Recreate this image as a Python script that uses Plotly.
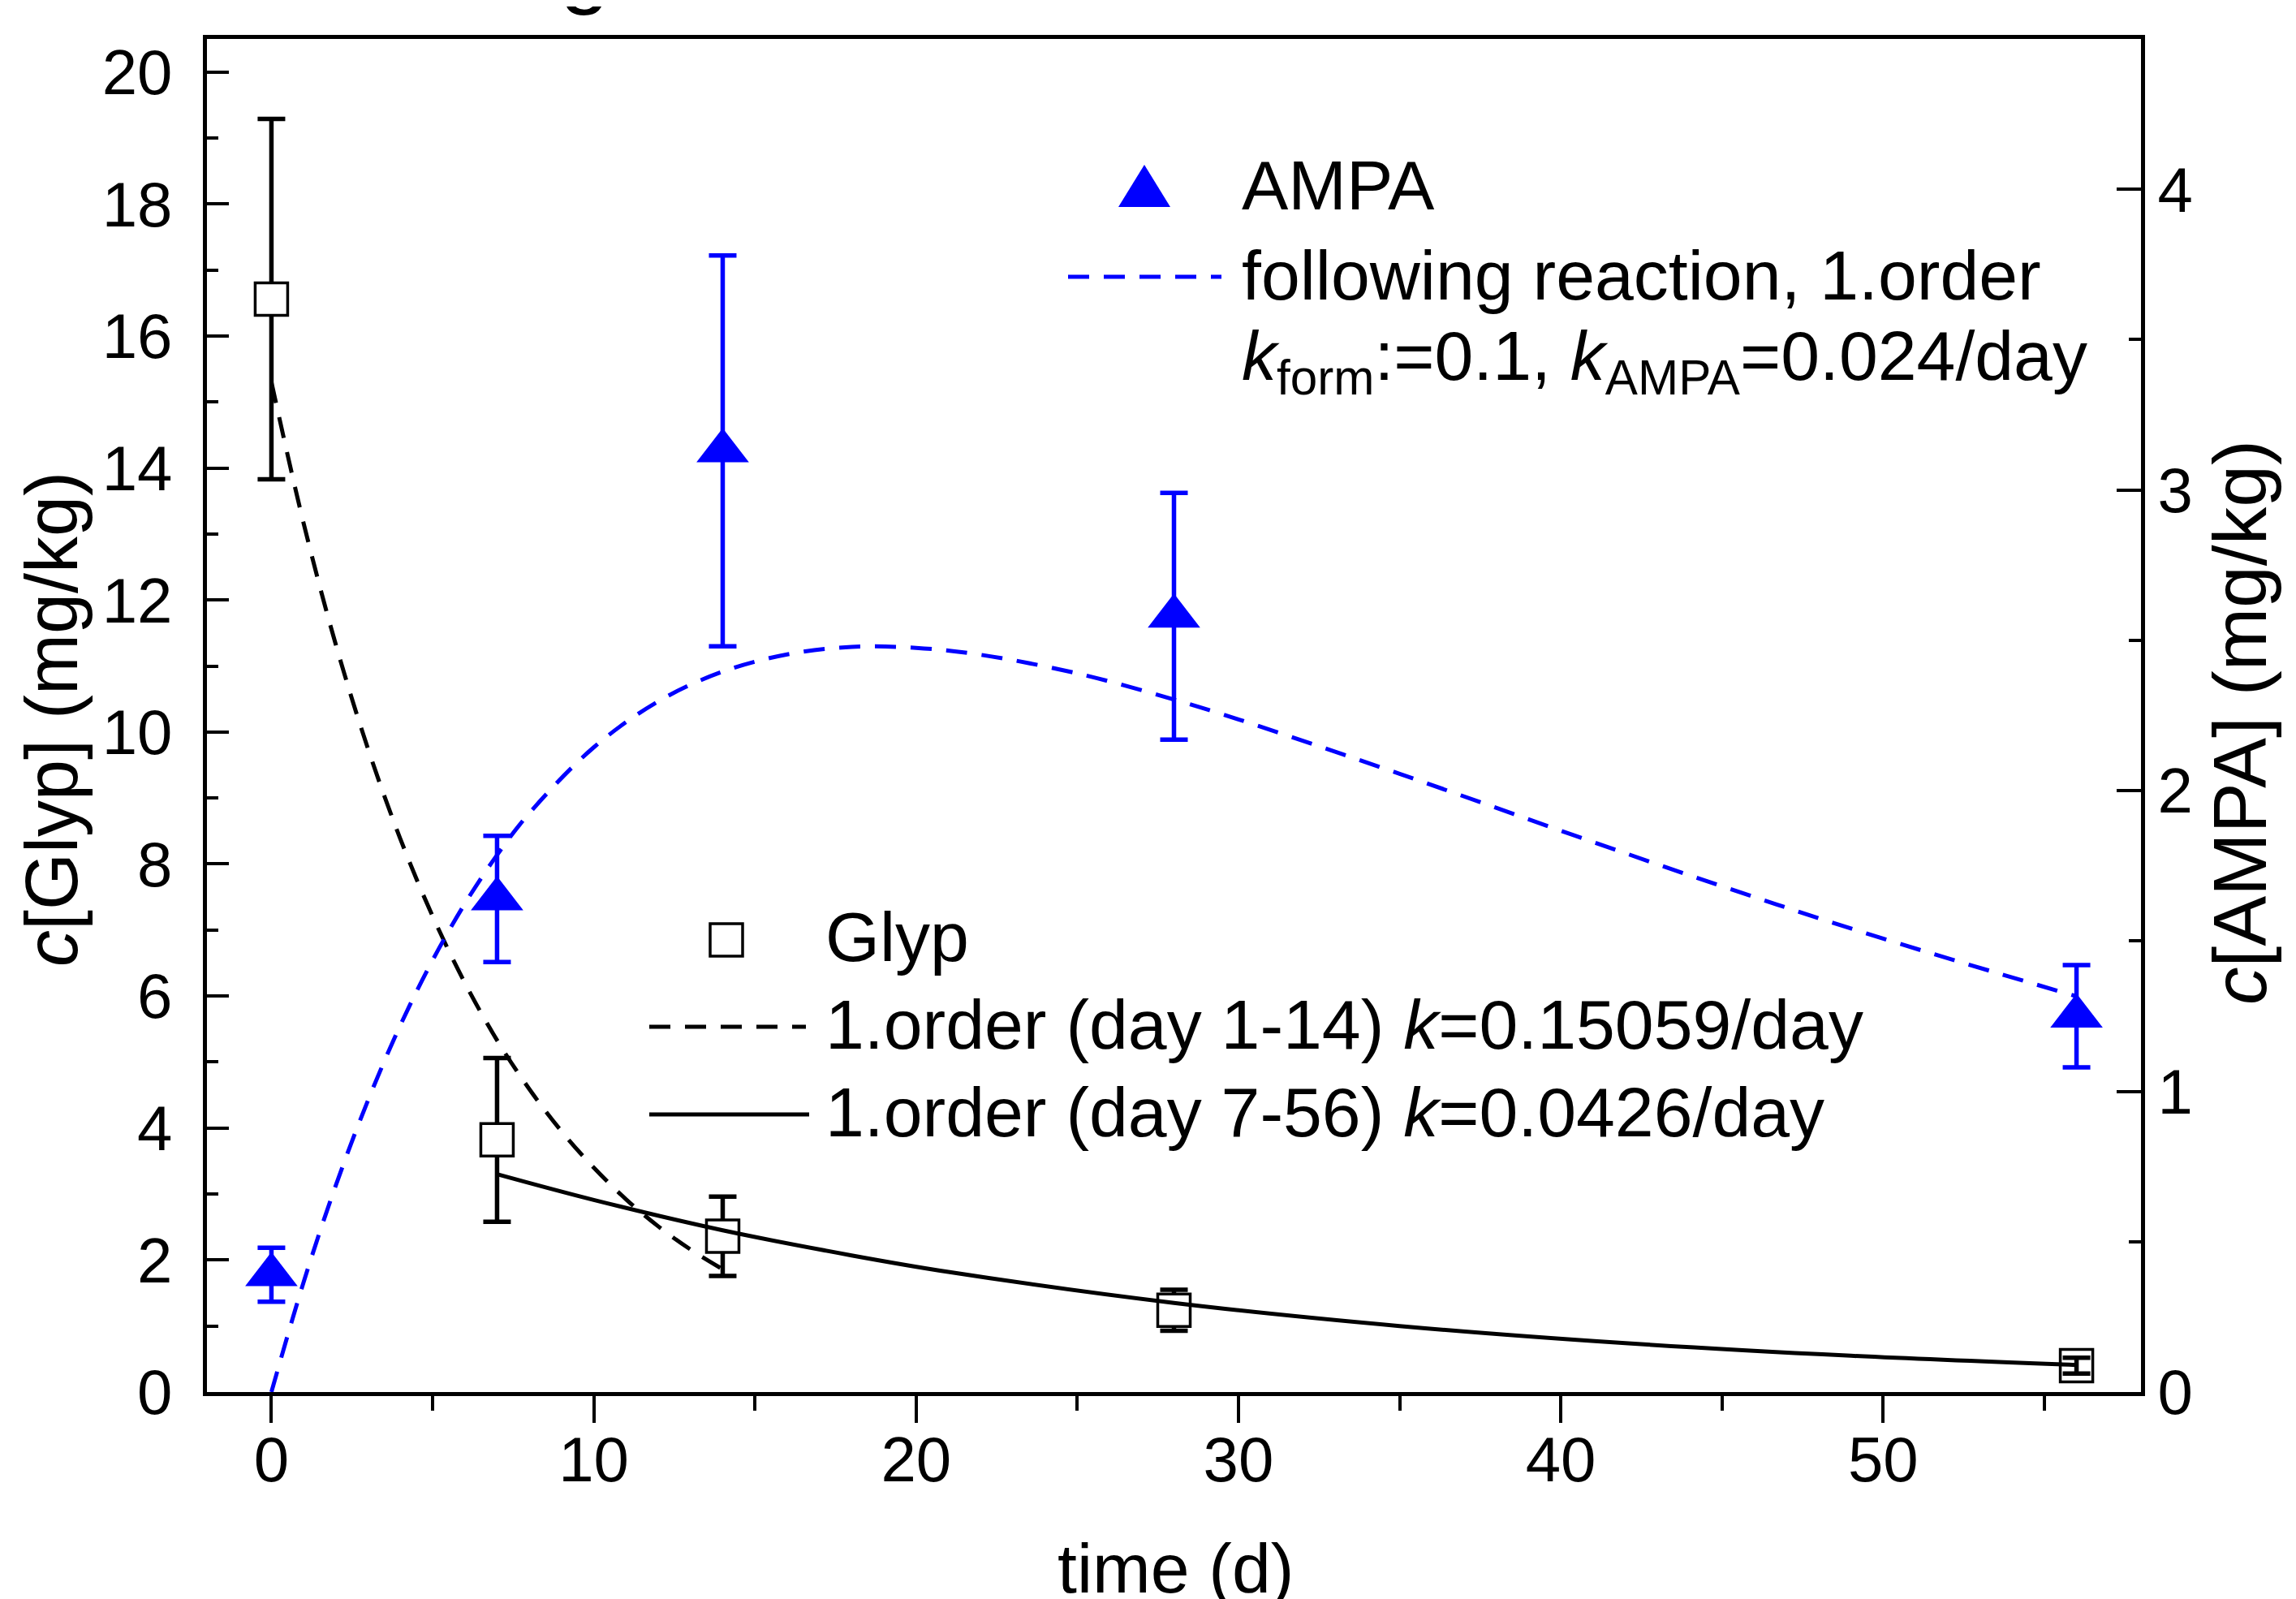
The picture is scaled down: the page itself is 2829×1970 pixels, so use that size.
import plotly.graph_objects as go

# ---------------- data ----------------
time_days = [0, 7, 14, 28, 56]
glyp = [16.56, 3.82, 2.36, 1.24, 0.40]
glyp_err = [2.73, 1.24, 0.60, 0.31, 0.12]
ampa = [0.39, 1.64, 3.13, 2.58, 1.25]
ampa_err = [0.09, 0.21, 0.65, 0.41, 0.17]

# 1.order fit, day 1-14 (dashed black)
fit1_t = [0, 1, 2, 3, 4, 5, 6, 7, 8, 9, 10, 11, 12, 13, 14]
fit1_c = [15.3, 13.16, 11.32, 9.74, 8.38, 7.21, 6.20, 5.33, 4.59, 3.95, 3.40, 2.92, 2.51, 2.16, 1.86]

# 1.order fit, day 7-56 (solid black)
fit2_t = [7, 10, 14, 18, 21, 28, 35, 42, 49, 56]
fit2_c = [3.30, 2.91, 2.45, 2.07, 1.82, 1.35, 1.00, 0.74, 0.55, 0.41]

# following reaction fit for AMPA (dashed blue, right axis)
fit3_t = [0, 1, 2, 3, 4, 5, 6, 7, 8, 10, 12, 14, 16, 18, 20, 22, 25, 28, 30, 35, 40, 45, 50, 56]
fit3_c = [0.0, 0.366, 0.688, 0.971, 1.220, 1.436, 1.624, 1.786, 1.925, 2.144, 2.297, 2.396,
          2.453, 2.478, 2.475, 2.452, 2.390, 2.303, 2.237, 2.056, 1.867, 1.682, 1.508, 1.316]

x_ticks = [0, 10, 20, 30, 40, 50]
y_ticks = [0, 2, 4, 6, 8, 10, 12, 14, 16, 18, 20]
y2_ticks = [0, 1, 2, 3, 4]

# ---------------- layout geometry ----------------
W, H = 2829, 1970
L, R, T, B = 247, 2630, 40, 1707   # plot area in pixels
FONT = "Liberation Sans, Arial, sans-serif"
BLUE = "#0000FF"
DASH = "26px,18px"


def px_x(p):
    return (p - L) / (R - L)


def px_y(p):
    return (B - p) / (B - T)


fig = go.Figure()

# square fill: white, except the last one where the small error bar shows through
sq_fill = ["white", "white", "white", "white", "rgba(255,255,255,0)"]

fig.add_trace(go.Scatter(
    x=time_days, y=glyp, mode="markers", name="Glyp",
    marker=dict(symbol="square", size=40, color=sq_fill,
                line=dict(color="black", width=3.5)),
    error_y=dict(type="data", array=glyp_err, color="black", thickness=5.5, width=17),
    showlegend=False))

fig.add_trace(go.Scatter(
    x=time_days, y=ampa, mode="markers", name="AMPA", yaxis="y2",
    marker=dict(symbol="triangle-up", size=56, color=BLUE, line=dict(width=0)),
    error_y=dict(type="data", array=ampa_err, color=BLUE, thickness=5.5, width=17),
    showlegend=False))

fig.add_trace(go.Scatter(
    x=fit1_t, y=fit1_c, mode="lines",
    line=dict(color="black", width=5, dash=DASH, shape="spline"),
    showlegend=False))

fig.add_trace(go.Scatter(
    x=fit2_t, y=fit2_c, mode="lines", line=dict(color="black", width=5, shape="spline"),
    showlegend=False))

fig.add_trace(go.Scatter(
    x=fit3_t, y=fit3_c, mode="lines", yaxis="y2",
    line=dict(color=BLUE, width=5, dash=DASH, shape="spline"),
    showlegend=False))

# ---------------- manual legends ----------------
shapes = []
annotations = []


def legend_text(xp, yp, text):
    annotations.append(dict(x=px_x(xp), y=px_y(yp), xref="paper", yref="paper",
                            text=text, showarrow=False, xanchor="left", yanchor="middle",
                            font=dict(family=FONT, size=86, color="black")))


# AMPA legend
shapes.append(dict(type="path", xref="paper", yref="paper",
                   xsizemode="pixel", ysizemode="pixel",
                   xanchor=px_x(1402), yanchor=px_y(227),
                   path="M -32 -20 L 32 -20 L 0 32 Z",
                   fillcolor=BLUE, line=dict(width=0)))
legend_text(1520, 220, "AMPA")
shapes.append(dict(type="line", xref="paper", yref="paper",
                   x0=px_x(1308), x1=px_x(1497), y0=px_y(333), y1=px_y(333),
                   line=dict(color=BLUE, width=5, dash=DASH)))
legend_text(1520, 331, "following reaction, 1.order")
legend_text(1520, 436, "<i>k</i><sub>form</sub>:=0.1, <i>k</i><sub>AMPA</sub>=0.024/day")

# Glyp legend
shapes.append(dict(type="rect", xref="paper", yref="paper",
                   xsizemode="pixel", ysizemode="pixel",
                   xanchor=px_x(887), yanchor=px_y(1150),
                   x0=-20, x1=20, y0=-20, y1=20,
                   fillcolor="white", line=dict(color="black", width=3.5)))
legend_text(1007, 1146, "Glyp")
shapes.append(dict(type="line", xref="paper", yref="paper",
                   x0=px_x(792), x1=px_x(985), y0=px_y(1257), y1=px_y(1257),
                   line=dict(color="black", width=5, dash=DASH)))
legend_text(1007, 1254, "1.order (day 1-14) <i>k</i>=0.15059/day")
shapes.append(dict(type="line", xref="paper", yref="paper",
                   x0=px_x(792), x1=px_x(989), y0=px_y(1365), y1=px_y(1365),
                   line=dict(color="black", width=5)))
legend_text(1007, 1362, "1.order (day 7-56) <i>k</i>=0.0426/day")

# axis titles
annotations.append(dict(x=px_x(1440), y=px_y(1924), xref="paper", yref="paper",
                        text="time (d)", showarrow=False, xanchor="center", yanchor="middle",
                        font=dict(family=FONT, size=86, color="black")))
annotations.append(dict(x=px_x(56), y=px_y(878), xref="paper", yref="paper",
                        text="<i>c</i>[Glyp] (mg/kg)", showarrow=False, textangle=-90,
                        xanchor="center", yanchor="middle",
                        font=dict(family=FONT, size=90, color="black")))
annotations.append(dict(x=px_x(2752), y=px_y(882), xref="paper", yref="paper",
                        text="<i>c</i>[AMPA] (mg/kg)", showarrow=False, textangle=-90,
                        xanchor="center", yanchor="middle",
                        font=dict(family=FONT, size=93, color="black")))
# cut-off fragment of a title above the chart
annotations.append(dict(x=px_x(712), y=px_y(13), xref="paper", yref="paper",
                        text="g", showarrow=False, xanchor="center", yanchor="bottom",
                        font=dict(family=FONT, size=110, color="black")))

axis_common = dict(showgrid=False, zeroline=False, showline=True, linecolor="black",
                   linewidth=5, tickcolor="black", tickwidth=4,
                   tickfont=dict(family=FONT, size=78, color="black"))

fig.update_layout(
    width=W, height=H,
    margin=dict(l=L, r=W - R, t=T, b=H - B, autoexpand=False),
    paper_bgcolor="white", plot_bgcolor="white",
    showlegend=False,
    xaxis=dict(range=[-2, 58], tickvals=x_ticks, ticks="outside", ticklen=33,
               mirror=True, ticklabelstandoff=-22,
               minor=dict(dtick=5, tick0=0, ticks="outside", ticklen=18,
                          tickcolor="black", tickwidth=4),
               **axis_common),
    yaxis=dict(range=[0, 20.5], tickvals=y_ticks, ticks="inside", ticklen=27,
               ticklabelstandoff=22,
               minor=dict(dtick=1, tick0=0, ticks="inside", ticklen=14,
                          tickcolor="black", tickwidth=4),
               **axis_common),
    yaxis2=dict(range=[0, 4.5], tickvals=y2_ticks, ticks="inside", ticklen=30,
                overlaying="y", side="right",
                minor=dict(dtick=0.5, tick0=0, ticks="inside", ticklen=15,
                           tickcolor="black", tickwidth=4),
                **axis_common),
    shapes=shapes,
    annotations=annotations,
)

fig.write_html("out.html")
